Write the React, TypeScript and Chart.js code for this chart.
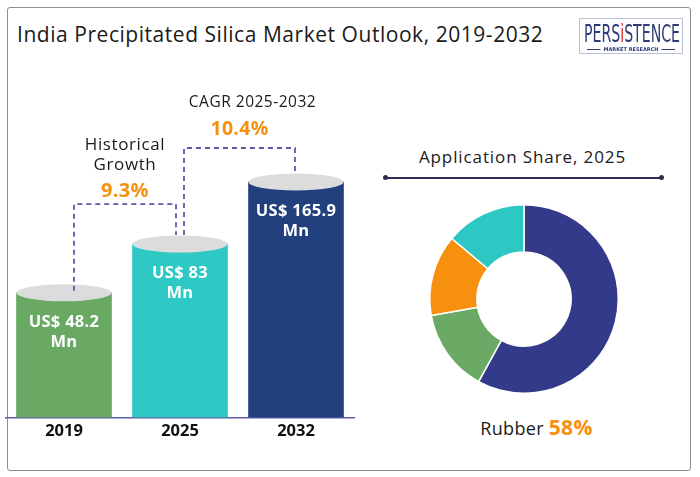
import React, { useEffect, useRef } from "react";
import { Chart, registerables } from "chart.js";

Chart.register(...registerables);

const FONT = "'Open Sans', sans-serif";

const years = ["2019", "2025", "2032"];
const marketValues = [48.2, 83, 165.9];
const barColors = ["#69a963", "#2fc9c5", "#23407e"];
const historicalCagr = "9.3%";
const forecastCagr = "10.4%";

const applications = ["Rubber", "Segment B", "Segment C", "Segment D"];
const shareValues = [58, 14.2, 13.9, 13.9];
const shareColors = ["#343a8a", "#6aaa64", "#f7900f", "#2ec8c4"];

const cylinderPlugin = {
  id: "cylinders",
  afterDatasetsDraw(chart: any) {
    const ctx = chart.ctx;
    const bars = chart.getDatasetMeta(0).data;
    bars.forEach((bar: any, i: number) => {
      const { x, y, width } = bar.getProps(["x", "y", "width"], true);
      ctx.save();
      ctx.fillStyle = "#dcdcdc";
      ctx.beginPath();
      ctx.ellipse(x, y, width / 2, 8.5, 0, 0, Math.PI * 2);
      ctx.fill();
      ctx.fillStyle = "#ffffff";
      ctx.font = `bold 16.5px ${FONT}`;
      ctx.letterSpacing = "0.3px";
      ctx.textAlign = "center";
      ctx.textBaseline = "alphabetic";
      ctx.fillText(`US$ ${marketValues[i]}`, x, y + 34);
      ctx.fillText("Mn", x, y + 54);
      ctx.restore();
    });
    const [b0, b1, b2] = bars;
    const yA = Math.min(b0.y, b1.y) - 40;
    const yB = b2.y - 34;
    ctx.save();
    ctx.strokeStyle = "#5a5aa8";
    ctx.lineWidth = 1.8;
    ctx.setLineDash([5, 4]);
    ctx.beginPath();
    ctx.moveTo(b0.x + 10, b0.y - 2);
    ctx.lineTo(b0.x + 10, yA);
    ctx.lineTo(b1.x - 4, yA);
    ctx.lineTo(b1.x - 4, b1.y - 9);
    ctx.stroke();
    ctx.beginPath();
    ctx.moveTo(b1.x + 4, b1.y - 9);
    ctx.lineTo(b1.x + 4, yB);
    ctx.lineTo(b2.x - 1, yB);
    ctx.lineTo(b2.x - 1, b2.y - 7);
    ctx.stroke();
    ctx.setLineDash([]);
    const cA = (b0.x + 10 + b1.x - 4) / 2;
    const cB = (b1.x + 4 + b2.x - 1) / 2;
    ctx.textAlign = "center";
    ctx.textBaseline = "alphabetic";
    ctx.fillStyle = "#1a1a1a";
    ctx.font = `17px ${FONT}`;
    ctx.letterSpacing = "0.6px";
    ctx.fillText("Historical", cA, yA - 54);
    ctx.fillText("Growth", cA, yA - 34);
    ctx.fillStyle = "#f7900f";
    ctx.font = `bold 20px ${FONT}`;
    ctx.letterSpacing = "0.3px";
    ctx.fillText(historicalCagr, cA, yA - 7);
    ctx.fillStyle = "#1a1a1a";
    ctx.font = `15.5px ${FONT}`;
    ctx.letterSpacing = "0.5px";
    ctx.fillText("CAGR 2025-2032", cB + 13, yB - 41);
    ctx.fillStyle = "#f7900f";
    ctx.font = `bold 19.5px ${FONT}`;
    ctx.letterSpacing = "0.3px";
    ctx.fillText(forecastCagr, cB, yB - 13);
    ctx.restore();
  },
};

function Logo() {
  const ref = useRef<HTMLCanvasElement>(null);
  useEffect(() => {
    const c = ref.current;
    if (!c) return;
    const ctx = c.getContext("2d")!;
    ctx.clearRect(0, 0, c.width, c.height);
    ctx.strokeStyle = "#b9c0d8";
    ctx.lineWidth = 1;
    ctx.strokeRect(0.5, 0.5, c.width - 1, c.height - 1);
    const parts = [
      { t: "PERS", col: "#2e3a78" },
      { t: "i", col: "#d9262c" },
      { t: "STENCE", col: "#2e3a78" },
    ];
    ctx.font = "24px 'Liberation Sans Narrow', 'DejaVu Sans Condensed', sans-serif";
    const total = parts.reduce((s, p) => s + ctx.measureText(p.t).width, 0);
    const sx = 96 / total;
    ctx.save();
    ctx.translate(5, 24);
    ctx.scale(sx, 1);
    let x = 0;
    parts.forEach((p) => {
      ctx.fillStyle = p.col;
      ctx.fillText(p.t, x, 0);
      x += ctx.measureText(p.t).width;
    });
    ctx.restore();
    ctx.font = "bold 5px 'DejaVu Sans', sans-serif";
    ctx.fillStyle = "#2e3a78";
    ctx.textAlign = "center";
    ctx.fillText("MARKET RESEARCH", 52, 33);
    const tw = ctx.measureText("MARKET RESEARCH").width;
    ctx.strokeStyle = "#2e3a78";
    ctx.beginPath();
    ctx.moveTo(8, 31.5);
    ctx.lineTo(52 - tw / 2 - 3, 31.5);
    ctx.moveTo(52 + tw / 2 + 3, 31.5);
    ctx.lineTo(96, 31.5);
    ctx.stroke();
  }, []);
  return (
    <canvas
      ref={ref}
      width={104}
      height={36}
      style={{ position: "absolute", left: 579, top: 18 }}
    />
  );
}

export default function App() {
  const barRef = useRef<HTMLCanvasElement>(null);
  const pieRef = useRef<HTMLCanvasElement>(null);

  useEffect(() => {
    const barChart = new Chart(barRef.current!, {
      type: "bar",
      data: {
        labels: years,
        datasets: [
          {
            data: marketValues,
            backgroundColor: barColors,
            borderWidth: 0,
            barThickness: 95,
          },
        ],
      },
      options: {
        responsive: false,
        animation: false,
        layout: { padding: { left: 6, right: 6, top: 21, bottom: 31.8 } },
        scales: {
          x: {
            grid: { display: false, drawTicks: false },
            border: { display: true, color: "#5b5ea6", width: 1.5 },
            ticks: {
              color: "#111111",
              padding: 4,
              font: { family: "Open Sans", size: 16.5, weight: "bold" },
            },
          },
          y: { type: "logarithmic", min: 12, max: 1000, display: false },
        },
        plugins: { legend: { display: false }, tooltip: { enabled: false } },
      } as any,
      plugins: [cylinderPlugin],
    });

    const pieChart = new Chart(pieRef.current!, {
      type: "doughnut",
      data: {
        labels: applications,
        datasets: [
          {
            data: shareValues,
            backgroundColor: shareColors,
            borderColor: "#ffffff",
            borderWidth: 1.5,
            hoverOffset: 0,
          },
        ],
      },
      options: {
        responsive: false,
        animation: false,
        cutout: "50%",
        layout: { padding: 5 },
        plugins: { legend: { display: false }, tooltip: { enabled: false } },
      } as any,
    });

    return () => {
      barChart.destroy();
      pieChart.destroy();
    };
  }, []);

  return (
    <div
      style={{
        position: "fixed",
        left: 0,
        top: 0,
        width: 700,
        height: 477,
        background: "#ffffff",
        overflow: "hidden",
        fontFamily: FONT,
      }}
    >
      <div
        style={{
          position: "absolute",
          left: 7,
          top: 7,
          width: 684,
          height: 464,
          border: "1.5px solid #8c8c8c",
          borderRadius: 3,
          boxSizing: "border-box",
        }}
      />
      <div
        style={{
          position: "absolute",
          left: 17,
          top: 24.3,
          fontSize: 21,
          lineHeight: "21px",
          letterSpacing: "0.54px",
          color: "#1a1a1a",
          whiteSpace: "nowrap",
        }}
      >
        India Precipitated Silica Market Outlook, 2019-2032
      </div>
      <Logo />
      <canvas
        ref={barRef}
        width={360}
        height={477}
        style={{ position: "absolute", left: 0, top: 0 }}
      />
      <div
        style={{
          position: "absolute",
          left: 372,
          width: 301,
          top: 148,
          fontSize: 17,
          lineHeight: "17px",
          letterSpacing: "0.9px",
          color: "#1a1a1a",
          textAlign: "center",
          whiteSpace: "nowrap",
        }}
      >
        Application Share, 2025
      </div>
      <div
        style={{
          position: "absolute",
          left: 385,
          top: 177,
          width: 276,
          height: 1.5,
          background: "#2b2d55",
        }}
      />
      <div
        style={{
          position: "absolute",
          left: 382.5,
          top: 175.2,
          width: 5,
          height: 5,
          borderRadius: "50%",
          background: "#2b2d55",
        }}
      />
      <div
        style={{
          position: "absolute",
          left: 658.5,
          top: 175.2,
          width: 5,
          height: 5,
          borderRadius: "50%",
          background: "#2b2d55",
        }}
      />
      <canvas
        ref={pieRef}
        width={200}
        height={200}
        style={{ position: "absolute", left: 424, top: 199 }}
      />
      <div
        style={{
          position: "absolute",
          left: 386,
          width: 301,
          top: 412,
          fontSize: 18,
          lineHeight: "30px",
          letterSpacing: "0.3px",
          color: "#1a1a1a",
          textAlign: "center",
          whiteSpace: "nowrap",
        }}
      >
        Rubber{" "}
        <span style={{ fontSize: 21, fontWeight: 700, color: "#f7900f" }}>58%</span>
      </div>
    </div>
  );
}
